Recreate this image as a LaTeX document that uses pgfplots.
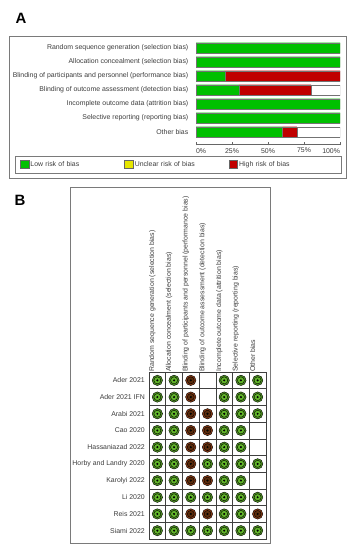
\documentclass[border=0pt]{standalone}
\usepackage{pgfplots}
\pgfplotsset{compat=1.18}
\usepackage{pgfplotstable}
\usepackage{fontspec}
\setmainfont{Liberation Sans}
\definecolor{lowg}{HTML}{00C000}
\definecolor{highr}{HTML}{C00000}
\definecolor{uncy}{HTML}{E6E600}
\definecolor{txt}{HTML}{3C3C3C}
\definecolor{frame}{HTML}{7A7A7A}
\definecolor{ringg}{HTML}{4E9420}
\definecolor{innerg}{HTML}{62B52A}
\definecolor{ringr}{HTML}{8A3A14}
\definecolor{innerr}{HTML}{5A2C0C}

% Panel A: percentage of studies per domain (y = 6 - row)
\pgfplotstableread{
y low high blank
6 100 0 0
5 100 0 0
4 20 80 0
3 30 50 20
2 100 0 0
1 100 0 0
0 60 10 30
}\summarytable

% Panel B: low risk judgements (x = domain, y = 9 - study row)
\pgfplotstableread{
x y
0 9
1 9
4 9
5 9
6 9
0 8
1 8
4 8
5 8
6 8
0 7
1 7
4 7
5 7
6 7
0 6
1 6
4 6
5 6
0 5
1 5
4 5
5 5
0 4
1 4
3 4
4 4
5 4
6 4
0 3
1 3
4 3
5 3
0 2
1 2
2 2
3 2
4 2
5 2
6 2
0 1
1 1
4 1
5 1
0 0
1 0
2 0
3 0
4 0
5 0
6 0
}\lowtable

% Panel B: high risk judgements
\pgfplotstableread{
x y
2 9
2 8
2 7
3 7
2 6
3 6
2 5
3 5
2 4
2 3
3 3
2 1
3 1
6 1
}\hightable

\newcommand{\sz}{\fontsize{6.95}{8}\selectfont}

\begin{document}
\begin{tikzpicture}
\path (0bp,0bp) rectangle (356bp,550bp);

% ---------------- Panel A ----------------
\node[font=\bfseries\fontsize{15}{15}\selectfont] at (21bp,532bp) {A};
\draw[frame, line width=0.6bp] (9bp,514bp) rectangle (346bp,372bp);
\draw[frame, line width=0.6bp] (15bp,394bp) rectangle (341bp,377bp);

\begin{axis}[
  at={(196bp,406bp)}, anchor=south west,
  scale only axis, width=144bp, height=103bp,
  xbar stacked, bar width=10.5bp,
  xmin=0, xmax=100, ymin=-0.857, ymax=6.5,
  axis x line*=bottom, axis y line*=left,
  y axis line style={draw=none},
  x axis line style={black!60, line width=0.5bp},
  ytick={0,...,6},
  yticklabels={Other bias,
    Selective reporting (reporting bias),
    Incomplete outcome data (attrition bias),
    Blinding of outcome assessment (detection bias),
    Blinding of participants and personnel (performance bias),
    Allocation concealment (selection bias),
    Random sequence generation (selection bias)},
  ytick style={draw=none},
  xtick={0,25,50,75,100},
  xticklabels={\makebox[0pt][l]{0\%},25\%,50\%,75\%,\makebox[0pt][r]{100\%}},
  xtick style={black!60, line width=0.4bp},
  tick align=center, major tick length=3bp,
  tick label style={font=\sz, text=txt, inner sep=0pt},
  yticklabel style={xshift=-6bp},
  xticklabel style={yshift=-2.5bp},
  legend columns=3,
  legend cell align=left,
  legend image code/.code={\draw[#1, draw=black!60, line width=0.4bp] (0bp,-4bp) rectangle (8.5bp,4bp);},
  legend style={draw=none, fill=none, at={(-1.2222,-0.199)}, anchor=west,
    inner sep=0pt, outer sep=0pt, font=\sz, text=txt,
    /tikz/column sep=0pt,
    nodes={inner sep=1.5bp, text width=92.5bp, align=left}},
]
\addlegendimage{fill=lowg}
\addlegendimage{fill=uncy}
\addlegendimage{fill=highr}
\addplot[fill=lowg, draw=black!55, line width=0.4bp] table[x=low, y=y] {\summarytable};
\addplot[fill=highr, draw=black!55, line width=0.4bp] table[x=high, y=y] {\summarytable};
\addplot[fill=white, draw=black!55, line width=0.4bp] table[x=blank, y=y] {\summarytable};
\legend{Low risk of bias, Unclear risk of bias, High risk of bias}
\end{axis}

% ---------------- Panel B ----------------
\node[font=\bfseries\fontsize{15}{15}\selectfont] at (20bp,350bp) {B};
\draw[frame, line width=0.6bp] (70bp,7bp) rectangle (270bp,363bp);

\begin{axis}[
  at={(149bp,11bp)}, anchor=south west,
  scale only axis, width=117bp, height=167bp,
  xmin=-0.5, xmax=6.5, ymin=-0.5, ymax=9.5,
  axis line style={black!75, line width=0.5bp},
  xtick={0,...,6}, ytick={0,...,9},
  minor xtick={0.5,1.5,...,5.5},
  minor ytick={0.5,1.5,...,8.5},
  grid=minor,
  minor grid style={black!75, line width=0.5bp},
  major tick length=0pt, minor tick length=0pt,
  xticklabel pos=upper,
  xticklabels={Random sequence generation (selection bias),
    Allocation concealment (selection bias),
    Blinding of participants and personnel (performance bias),
    Blinding of outcome assessment (detection bias),
    Incomplete outcome data (attrition bias),
    Selective reporting (reporting bias),
    Other bias},
  yticklabels={Siami 2022, Reis 2021, Li 2020, Karolyi 2022,
    Horby and Landry 2020, Hassaniazad 2022, Cao 2020,
    Arabi 2021, Ader 2021 IFN, Ader 2021},
  tick label style={font=\sz, text=txt, inner sep=0pt},
  xticklabel style={rotate=90, anchor=west, yshift=5bp},
  yticklabel style={anchor=east, xshift=-4bp},
]
\addplot[only marks, mark=*, mark size=5.2bp, mark options={draw=none, fill=ringg}] table[x=x, y=y] {\lowtable};
\addplot[only marks, mark=*, mark size=3.5bp, mark options={draw=none, fill=innerg}] table[x=x, y=y] {\lowtable};
\addplot[only marks, mark=*, mark size=0.8bp, mark options={draw=none, fill=black}] table[x=x, y=y] {\lowtable};
\addplot[only marks, mark=*, mark size=5.2bp, mark options={draw=none, fill=ringr}] table[x=x, y=y] {\hightable};
\addplot[only marks, mark=*, mark size=3.5bp, mark options={draw=none, fill=innerr}] table[x=x, y=y] {\hightable};
\addplot[only marks, mark=*, mark size=0.8bp, mark options={draw=none, fill=black}] table[x=x, y=y] {\hightable};
\end{axis}
\end{tikzpicture}
\end{document}
